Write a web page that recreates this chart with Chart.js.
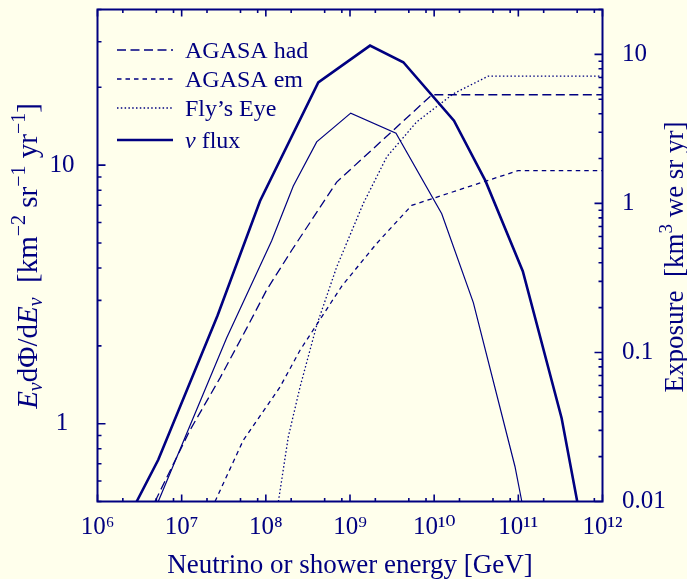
<!DOCTYPE html>
<html>
<head>
<meta charset="utf-8">
<script src="https://cdn.jsdelivr.net/npm/chart.js@4.4.0/dist/chart.umd.min.js"></script>
<style>
  html, body { margin: 0; padding: 0; background: #FFFFEC; }
  #wrap { width: 687px; height: 579px; position: relative; }
</style>
</head>
<body>
<div id="wrap"><canvas id="chart"></canvas></div>
<script>
// neutrino flux, E dPhi/dE (left axis), energies in GeV
const fluxE   = [2.92e6, 5.27e6, 2.67e7, 8.53e7, 4.20e8, 1.73e9, 4.30e9, 1.72e10, 4.07e10, 1.13e11, 3.27e11, 5.01e11];
const fluxVal = [0.5, 0.725, 2.62, 7.27, 20.9, 29.0, 25.0, 14.85, 8.69, 3.89, 1.05, 0.5];

// second (thin) flux curve, no legend entry
const thinE   = [5.27e6, 3.43e7, 1.17e8, 2.12e8, 4.02e8, 1.02e9, 3.52e9, 1.23e10, 2.92e10, 9.12e10, 1.10e11];
const thinVal = [0.5, 2.15, 5.09, 8.31, 12.3, 15.9, 13.3, 6.49, 2.94, 0.683, 0.5];

// exposures in km^3 we sr yr (right axis)
const hadE   = [4.82e6, 1.26e7, 2.85e7, 5.93e7, 1.02e8, 2.03e8, 6.95e8, 9.42e9, 1e12];
const hadExp = [0.01, 0.0302, 0.0673, 0.1455, 0.262, 0.485, 1.39, 5.36, 5.36];

const emE   = [2.49e7, 5.40e7, 1.47e8, 2.55e8, 7.96e8, 2.07e9, 5.41e9, 9.91e10, 1e12];
const emExp = [0.01, 0.0258, 0.0585, 0.1035, 0.278, 0.538, 0.971, 1.66, 1.66];

const flyE   = [1.41e8, 1.85e8, 2.55e8, 4.02e8, 6.95e8, 1.44e9, 2.73e9, 6.19e9, 1.69e10, 4.40e10, 1e12];
const flyExp = [0.01, 0.0272, 0.0587, 0.152, 0.375, 1.0, 2.05, 3.52, 5.44, 7.15, 7.15];

// tick labels
const xTickValues = [1e6, 1e7, 1e8, 1e9, 1e10, 1e11, 1e12];
const xTickLabels = ['10⁶', '10⁷', '10⁸', '10⁹', '10¹⁰', '10¹¹', '10¹²'];
const leftTickValues = [1, 10];
const leftTickLabels = ['1', '10'];
const rightTickValues = [0.01, 0.1, 1, 10];
const rightTickLabels = ['0.01', '0.1', '1', '10'];

const navy = '#000080';
const serif = '"Liberation Serif", "DejaVu Serif", serif';

function zip(xs, ys) {
    return xs.map((x, i) => ({ x: x, y: ys[i] }));
}

function labelFor(v, vals, labels) {
    for (let i = 0; i < vals.length; i++) {
        if (Math.abs(v / vals[i] - 1) < 1e-6) return labels[i];
    }
    return null;
}

function fontOf(size, italic) {
    return (italic ? 'italic ' : '') + size + 'px ' + serif;
}

// draws a row of text pieces (sub/superscripts) centred on x,y
function drawRich(ctx, parts, x, y, rot) {
    ctx.save();
    ctx.translate(x, y);
    ctx.rotate(rot);
    ctx.textAlign = 'left';
    ctx.textBaseline = 'alphabetic';
    ctx.fillStyle = navy;
    let total = 0;
    parts.forEach(p => {
        ctx.font = fontOf(p.s || 27, p.it);
        p.w = ctx.measureText(p.t).width;
        total += p.w;
    });
    let cx = -total / 2;
    parts.forEach(p => {
        ctx.font = fontOf(p.s || 27, p.it);
        ctx.fillText(p.t, cx, p.dy || 0);
        cx += p.w;
    });
    ctx.restore();
}

const framePlugin = {
    id: 'frame',
    afterDraw(chart) {
        const ctx = chart.ctx;
        const a = chart.chartArea;
        const xs = chart.scales.x, yl = chart.scales.y, yr = chart.scales.y1;
        ctx.save();
        ctx.strokeStyle = navy;

        // inward tick marks
        ctx.lineWidth = 1.6;
        ctx.beginPath();
        for (let e = 6; e <= 12; e++) {
            for (const m of [1, 2, 5, 8]) {
                if (e === 12 && m > 1) continue;
                const px = xs.getPixelForValue(m * Math.pow(10, e));
                const len = m === 1 ? 7 : 3.5;
                ctx.moveTo(px, a.top); ctx.lineTo(px, a.top + len);
                ctx.moveTo(px, a.bottom); ctx.lineTo(px, a.bottom - len);
            }
        }
        for (let e = -1; e <= 1; e++) {
            for (let m = 1; m <= 9; m++) {
                const v = m * Math.pow(10, e);
                if (v < 0.5 || v > 40) continue;
                const py = yl.getPixelForValue(v);
                ctx.moveTo(a.left, py); ctx.lineTo(a.left + (m === 1 ? 8 : 4), py);
            }
        }
        for (let e = -2; e <= 1; e++) {
            for (let m = 1; m <= 9; m++) {
                const v = m * Math.pow(10, e);
                if (v < 0.01 || v > 20) continue;
                const py = yr.getPixelForValue(v);
                ctx.moveTo(a.right, py); ctx.lineTo(a.right - (m === 1 ? 8 : 4), py);
            }
        }
        ctx.stroke();

        // frame
        ctx.lineWidth = 2;
        ctx.strokeRect(a.left, a.top, a.right - a.left, a.bottom - a.top);

        // legend
        const rows = [50, 79, 108, 140];
        const entries = chart.data.datasets.filter(d => d.inLegend).sort((p, q) => p.inLegend - q.inLegend);
        entries.forEach((d, i) => {
            const y = rows[i];
            ctx.lineWidth = d.borderWidth;
            ctx.setLineDash(d.borderDash || []);
            ctx.beginPath();
            ctx.moveTo(117, y); ctx.lineTo(173, y);
            ctx.stroke();
            ctx.setLineDash([]);
            ctx.fillStyle = navy;
            ctx.textBaseline = 'alphabetic';
            ctx.textAlign = 'left';
            if (d.label.startsWith('ν')) {
                ctx.font = fontOf(24, true);
                ctx.fillText('ν', 185, y + 8);
                const w = ctx.measureText('ν').width;
                ctx.font = fontOf(24, false);
                ctx.fillText(d.label.slice(1), 185 + w, y + 8);
            } else {
                ctx.font = fontOf(24, false);
                ctx.fillText(d.label, 185, y + 8);
            }
        });

        // axis titles
        drawRich(ctx, [{ t: 'Neutrino or shower energy [GeV]', s: 27 }], (a.left + a.right) / 2, 573, 0);
        drawRich(ctx, [
            { t: 'E', it: 1, s: 29 }, { t: 'ν', it: 1, s: 20, dy: 5 }, { t: 'dΦ/d', s: 29 },
            { t: 'E', it: 1, s: 29 }, { t: 'ν', it: 1, s: 20, dy: 5 },
            { t: '  [km', s: 29 }, { t: '−2', s: 20, dy: -12 },
            { t: ' sr', s: 29 }, { t: '−1', s: 20, dy: -12 },
            { t: ' yr', s: 29 }, { t: '−1', s: 20, dy: -12 }, { t: ']', s: 29 }
        ], 37, 256, -Math.PI / 2);
        drawRich(ctx, [
            { t: 'Exposure  [km' }, { t: '3', s: 19, dy: -11 }, { t: ' we sr yr]' }
        ], 683, 257, -Math.PI / 2);

        ctx.restore();
    }
};

const tickFont = { family: serif, size: 25, lineHeight: 1.2 };

// keep the plot box where the reference has it
function noPad(s) {
    s.paddingTop = 0; s.paddingBottom = 0; s.paddingLeft = 0; s.paddingRight = 0;
}

new Chart(document.getElementById('chart'), {
    type: 'line',
    data: {
        datasets: [
            { label: 'ν flux', data: zip(fluxE, fluxVal), yAxisID: 'y', borderWidth: 2.6, inLegend: 4 },
            { label: 'ν flux (lower)', data: zip(thinE, thinVal), yAxisID: 'y', borderWidth: 1.2 },
            { label: 'AGASA had', data: zip(hadE, hadExp), yAxisID: 'y1', borderWidth: 1.3, borderDash: [9, 4.5], inLegend: 1 },
            { label: 'AGASA em', data: zip(emE, emExp), yAxisID: 'y1', borderWidth: 1.3, borderDash: [4.5, 4], inLegend: 2 },
            { label: 'Fly’s Eye', data: zip(flyE, flyExp), yAxisID: 'y1', borderWidth: 1.3, borderDash: [1.5, 2.3], inLegend: 3 }
        ]
    },
    options: {
        responsive: true,
        maintainAspectRatio: false,
        animation: false,
        layout: { padding: { top: 9.5, left: 0, right: 0, bottom: 0 } },
        elements: {
            point: { radius: 0, hoverRadius: 0 },
            line: { tension: 0, borderColor: navy, fill: false }
        },
        plugins: {
            legend: { display: false },
            tooltip: { enabled: false }
        },
        scales: {
            x: {
                type: 'logarithmic',
                position: 'bottom',
                min: 1e6,
                max: 1e12,
                grid: { display: false, drawTicks: false },
                border: { display: false },
                ticks: {
                    autoSkip: false, maxRotation: 0, padding: 11,
                    font: tickFont, color: navy,
                    callback: v => labelFor(v, xTickValues, xTickLabels)
                },
                afterFit: s => { s.height = 77.5; noPad(s); }
            },
            y: {
                type: 'logarithmic',
                position: 'left',
                min: 0.5,
                max: 40,
                grid: { display: false, drawTicks: false },
                border: { display: false },
                ticks: {
                    autoSkip: false, crossAlign: 'center', padding: 23,
                    font: tickFont, color: navy,
                    callback: v => labelFor(v, leftTickValues, leftTickLabels)
                },
                afterFit: s => { s.width = 97.5; noPad(s); }
            },
            y1: {
                type: 'logarithmic',
                position: 'right',
                min: 0.01,
                max: 20,
                grid: { display: false, drawTicks: false },
                border: { display: false },
                ticks: {
                    autoSkip: false, padding: 19.5,
                    font: tickFont, color: navy,
                    callback: v => labelFor(v, rightTickValues, rightTickLabels)
                },
                afterFit: s => { s.width = 84.5; noPad(s); }
            }
        }
    },
    plugins: [framePlugin]
});
</script>
</body>
</html>
